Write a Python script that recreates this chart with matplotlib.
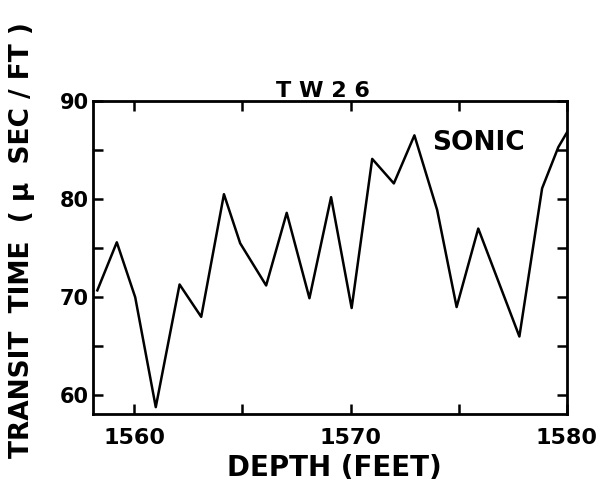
import numpy as np
import matplotlib
matplotlib.use("Agg")
import matplotlib.pyplot as plt
from matplotlib.ticker import MultipleLocator, FixedLocator

# depth (feet) vs sonic transit time (micro sec / ft)
depth = [1558.3, 1559.2, 1560.05, 1561.0, 1562.1, 1563.1, 1564.15, 1564.9,
         1566.1, 1567.05, 1568.1, 1569.1, 1570.05, 1571.0, 1572.0, 1572.95,
         1574.0, 1574.9, 1575.9, 1577.8, 1578.85, 1579.6, 1580.0]
transit = [70.7, 75.6, 70.0, 58.8, 71.3, 68.0, 80.5, 75.5,
           71.2, 78.6, 69.9, 80.2, 68.9, 84.1, 81.6, 86.5,
           78.9, 69.0, 77.0, 66.0, 81.1, 85.3, 86.8]

x_labels = [1560, 1570, 1580]
y_labels = [60, 70, 80, 90]

W, H = 604, 488
fig = plt.figure(figsize=(W / 100, H / 100), dpi=100)
ax = fig.add_axes([93 / W, 1 - 414 / H, (567 - 93) / W, (414 - 101) / H])

ax.plot(depth, transit, color='black', linewidth=1.8)

ax.set_xlim(1558.1, 1580)
ax.set_ylim(58.1, 90)
ax.xaxis.set_major_locator(FixedLocator(x_labels))
ax.xaxis.set_minor_locator(MultipleLocator(5))
ax.yaxis.set_major_locator(FixedLocator(y_labels))
ax.yaxis.set_minor_locator(MultipleLocator(5))

ax.tick_params(which='both', direction='in', top=True, right=True,
               width=1.8, color='black', length=7)
ax.tick_params(axis='x', which='major', pad=10, labelsize=16)
ax.tick_params(axis='y', which='major', pad=3, labelsize=15)
for lab in ax.get_xticklabels() + ax.get_yticklabels():
    lab.set_fontweight('bold')
for sp in ax.spines.values():
    sp.set_linewidth(2)

fig.text(323 / W, 1 - 97 / H, "T W 2 6", fontsize=16, fontweight='bold',
         ha='center', va='baseline')
fig.text(478 / W, 1 - 143 / H, "SONIC", fontsize=19, fontweight='bold',
         ha='center', va='center')
fig.text(334 / W, 1 - 468 / H, "DEPTH (FEET)", fontsize=20, fontweight='bold',
         ha='center', va='center')
fig.text(22 / W, 1 - 240 / H, "TRANSIT  TIME  ( μ  SEC / FT )", fontsize=19,
         fontweight='bold', rotation=90, ha='center', va='center')

fig.savefig("out.png", dpi=100)
